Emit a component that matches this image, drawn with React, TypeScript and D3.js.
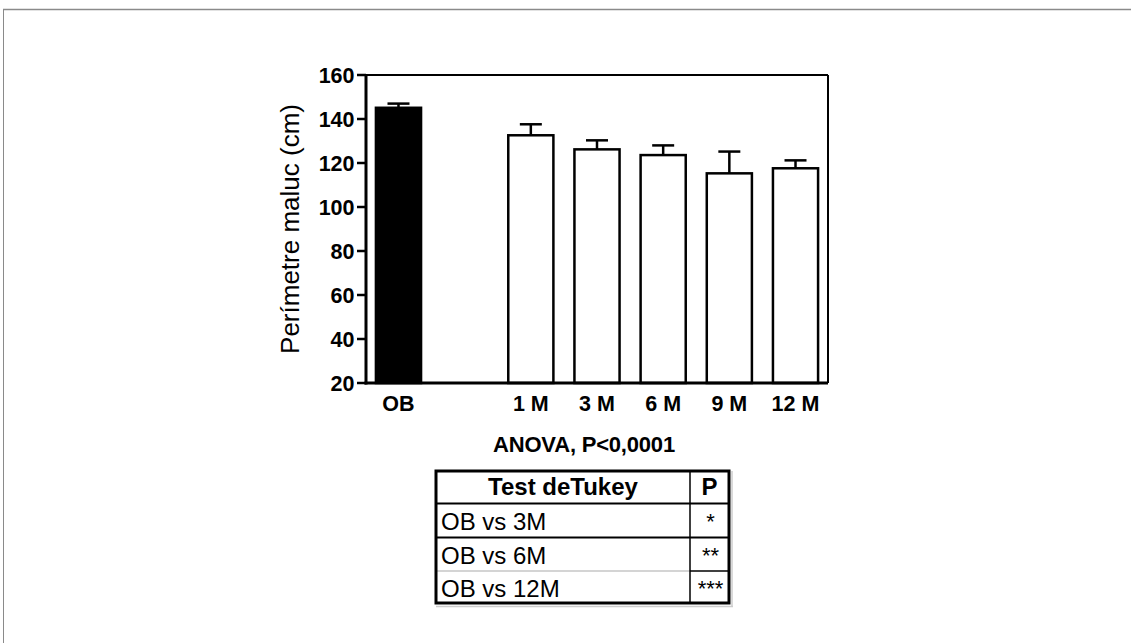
import * as d3 from 'd3';
import { useEffect, useRef } from 'react';

const groups = ['OB', 'gap', '1 M', '3 M', '6 M', '9 M', '12 M'];
const labels = ['OB', '1 M', '3 M', '6 M', '9 M', '12 M'];
const means = [145.1, 132.6, 126.2, 123.6, 115.3, 117.6];
const sems = [1.9, 5.0, 4.1, 4.4, 9.9, 3.6];
const fills = ['#000', '#fff', '#fff', '#fff', '#fff', '#fff'];
const yTicks = [20, 40, 60, 80, 100, 120, 140, 160];

const anovaText = 'ANOVA, P<0,0001';
const tableHeader = ['Test deTukey', 'P'];
const comparisons = ['OB vs 3M', 'OB vs 6M', 'OB vs 12M'];
const stars = ['*', '**', '***'];

const FONT = 'Liberation Sans, Arial, sans-serif';

function App() {
  const ref = useRef<SVGSVGElement>(null);

  useEffect(() => {
    const svg = d3.select(ref.current);
    svg.selectAll('*').remove();

    // outer picture frame
    svg.append('line').attr('x1', 3).attr('x2', 1131).attr('y1', 9.5).attr('y2', 9.5)
      .attr('stroke', '#8a8a8a').attr('stroke-width', 1.5);
    svg.append('line').attr('x1', 3.5).attr('x2', 3.5).attr('y1', 9).attr('y2', 643)
      .attr('stroke', '#8a8a8a').attr('stroke-width', 1);

    const x = d3.scaleBand()
      .domain(groups)
      .range([366, 828])
      .paddingInner(0.318)
      .paddingOuter(0.15);

    const y = d3.scaleLinear()
      .domain([20, 160])
      .range([383, 75]);

    const g = svg.append('g');

    // frame top + right
    g.append('line').attr('x1', 366).attr('x2', 828).attr('y1', y(160)).attr('y2', y(160))
      .attr('stroke', '#000').attr('stroke-width', 2);
    g.append('line').attr('x1', 828).attr('x2', 828).attr('y1', y(160)).attr('y2', y(20))
      .attr('stroke', '#000').attr('stroke-width', 2);

    // bars
    const keys = groups.filter((k) => k !== 'gap');
    keys.forEach((k, i) => {
      const bx = x(k) as number;
      const bw = x.bandwidth();
      const cx = bx + bw / 2;
      // error bar (upper only)
      g.append('line').attr('x1', cx).attr('x2', cx)
        .attr('y1', y(means[i])).attr('y2', y(means[i] + sems[i]))
        .attr('stroke', '#000').attr('stroke-width', 2.5);
      g.append('line').attr('x1', cx - 11).attr('x2', cx + 11)
        .attr('y1', y(means[i] + sems[i])).attr('y2', y(means[i] + sems[i]))
        .attr('stroke', '#000').attr('stroke-width', 2.5);
      g.append('rect')
        .attr('x', bx)
        .attr('y', y(means[i]))
        .attr('width', bw)
        .attr('height', y(20) - y(means[i]))
        .attr('fill', fills[i])
        .attr('stroke', '#000')
        .attr('stroke-width', 2.5);
      g.append('text')
        .attr('x', cx)
        .attr('y', 411)
        .attr('text-anchor', 'middle')
        .attr('font-family', FONT)
        .attr('font-weight', 'bold')
        .attr('font-size', 21.5)
        .text(labels[i]);
    });

    // Y axis
    g.append('line').attr('x1', 366).attr('x2', 366).attr('y1', y(160) - 1).attr('y2', y(20) + 1.5)
      .attr('stroke', '#000').attr('stroke-width', 3);
    g.append('line').attr('x1', 364.5).attr('x2', 828).attr('y1', y(20)).attr('y2', y(20))
      .attr('stroke', '#000').attr('stroke-width', 3);
    yTicks.forEach((t) => {
      g.append('line').attr('x1', 357).attr('x2', 366).attr('y1', y(t)).attr('y2', y(t))
        .attr('stroke', '#000').attr('stroke-width', 2.5);
      g.append('text')
        .attr('x', 354.5)
        .attr('y', y(t))
        .attr('dy', '0.36em')
        .attr('text-anchor', 'end')
        .attr('font-family', FONT)
        .attr('font-weight', 'bold')
        .attr('font-size', 21.5)
        .text(t);
    });

    g.append('text')
      .attr('transform', `translate(299,${(y(160) + y(20)) / 2}) rotate(-90)`)
      .attr('text-anchor', 'middle')
      .attr('font-family', FONT)
      .attr('font-size', 26)
      .text('Perímetre maluc (cm)');

    svg.append('text')
      .attr('x', 584)
      .attr('y', 452)
      .attr('text-anchor', 'middle')
      .attr('font-family', FONT)
      .attr('font-weight', 'bold')
      .attr('font-size', 22)
      .attr('letter-spacing', -0.2)
      .text(anovaText);

    // table
    const tb = svg.append('g');
    const left = 436;
    const right = 729;
    const mid = 690;
    const rows = [471, 503.5, 537.5, 571, 603];
    // light gray spreadsheet lines
    tb.append('line').attr('x1', left).attr('x2', right + 4).attr('y1', 606.5).attr('y2', 606.5)
      .attr('stroke', '#ccc').attr('stroke-width', 1.5);
    tb.append('line').attr('x1', right + 3).attr('x2', right + 3).attr('y1', rows[0]).attr('y2', 607)
      .attr('stroke', '#ccc').attr('stroke-width', 1.5);
    tb.append('line').attr('x1', left).attr('x2', mid).attr('y1', rows[3]).attr('y2', rows[3])
      .attr('stroke', '#aaa').attr('stroke-width', 1.2);
    tb.append('line').attr('x1', mid).attr('x2', right).attr('y1', rows[3]).attr('y2', rows[3])
      .attr('stroke', '#000').attr('stroke-width', 1.5);
    [rows[1], rows[2]].forEach((ry) => {
      tb.append('line').attr('x1', left).attr('x2', right).attr('y1', ry).attr('y2', ry)
        .attr('stroke', '#000').attr('stroke-width', 2);
    });
    tb.append('line').attr('x1', mid).attr('x2', mid).attr('y1', rows[0]).attr('y2', rows[4])
      .attr('stroke', '#000').attr('stroke-width', 1.5);
    tb.append('rect')
      .attr('x', left).attr('y', rows[0])
      .attr('width', right - left).attr('height', rows[4] - rows[0])
      .attr('fill', 'none').attr('stroke', '#000').attr('stroke-width', 3);

    tb.append('text').attr('x', (left + mid) / 2).attr('y', 495)
      .attr('text-anchor', 'middle').attr('font-family', FONT)
      .attr('font-weight', 'bold').attr('font-size', 24).text(tableHeader[0]);
    tb.append('text').attr('x', (mid + right) / 2).attr('y', 495)
      .attr('text-anchor', 'middle').attr('font-family', FONT)
      .attr('font-weight', 'bold').attr('font-size', 24).text(tableHeader[1]);

    const baselines = [529.5, 563.5, 597];
    comparisons.forEach((c, i) => {
      tb.append('text').attr('x', 441).attr('y', baselines[i])
        .attr('font-family', FONT).attr('font-size', 24).text(c);
      tb.append('text').attr('x', (mid + right) / 2 + 1).attr('y', baselines[i] - 1)
        .attr('text-anchor', 'middle').attr('font-family', FONT)
        .attr('font-size', 22).text(stars[i]);
    });
  }, []);

  return (
    <svg
      ref={ref}
      width={1131}
      height={643}
      style={{ position: 'absolute', left: 0, top: 0, background: '#fff' }}
    />
  );
}

export default App;
